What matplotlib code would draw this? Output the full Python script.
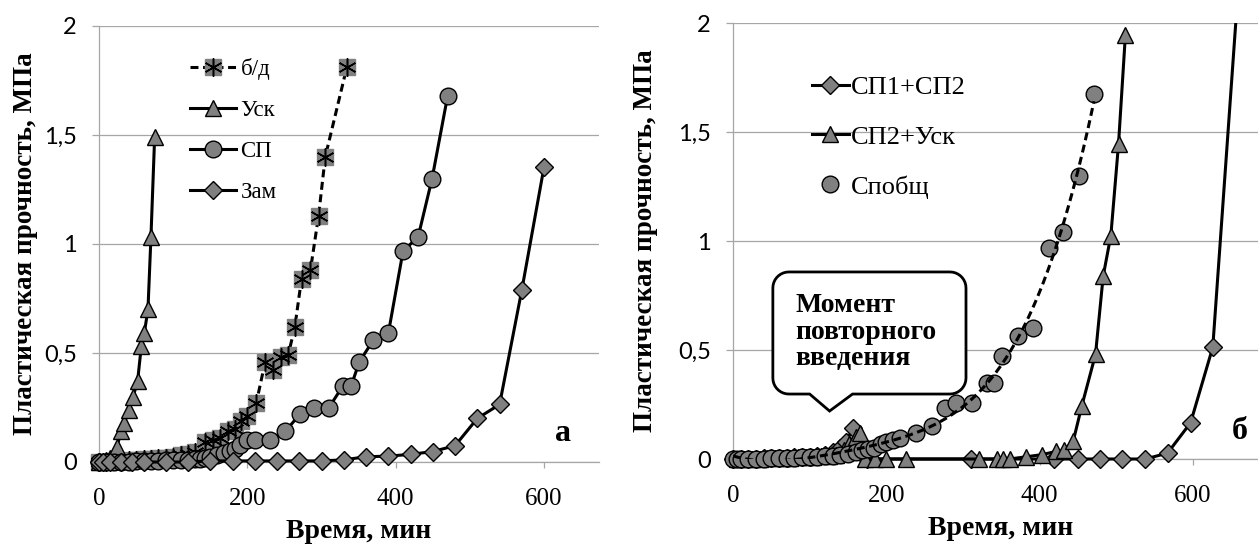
import numpy as np
import matplotlib
matplotlib.use("Agg")
import matplotlib.pyplot as plt
from matplotlib.path import Path
from matplotlib.patches import PathPatch, Rectangle
from matplotlib.transforms import IdentityTransform
from matplotlib.ticker import FuncFormatter
from matplotlib.font_manager import FontProperties
from matplotlib.legend_handler import HandlerTuple

# ---- panel a ----
bd_x = [0, 10, 20, 30, 40, 50, 60, 70, 80, 90, 100, 110, 120, 130, 143, 154, 163, 174,
        183, 192, 199, 212, 224, 235, 246, 255, 264, 273, 285, 296, 305, 334]
bd_y = [0, 0, 0.005, 0.005, 0.01, 0.01, 0.015, 0.015, 0.02, 0.02, 0.025, 0.03, 0.035, 0.045,
        0.09, 0.10, 0.11, 0.14, 0.15, 0.19, 0.21, 0.27, 0.46, 0.42, 0.48, 0.49, 0.62, 0.84,
        0.88, 1.13, 1.40, 1.81]

usk_x = [0, 5, 10, 15, 20, 24, 30, 34, 41, 46, 52, 57, 61, 66, 70, 75]
usk_y = [0, 0.005, 0.01, 0.02, 0.03, 0.07, 0.14, 0.18, 0.24, 0.30, 0.37, 0.53, 0.59, 0.70,
         1.03, 1.49]

sp_x = [0, 10, 20, 30, 40, 50, 60, 70, 80, 90, 100, 110, 120, 130, 136, 143, 150, 159, 168,
        177, 183, 190, 200, 210, 231, 251, 271, 290, 310, 329, 340, 351, 370, 390, 410, 430,
        449, 470]
sp_y = [0, 0, 0, 0, 0, 0.005, 0.005, 0.005, 0.005, 0.01, 0.01, 0.01, 0.01, 0.015, 0.015,
        0.02, 0.025, 0.03, 0.04, 0.05, 0.06, 0.08, 0.10, 0.10, 0.10, 0.14, 0.22, 0.25, 0.25,
        0.35, 0.35, 0.46, 0.56, 0.59, 0.97, 1.03, 1.30, 1.68]

zam_x = [0, 5, 15, 30, 45, 60, 90, 120, 150, 180, 210, 240, 270, 300, 330, 360, 390, 420,
         450, 480, 510, 540, 570, 600]
zam_y = [0, 0, 0, 0, 0, 0, 0, 0, 0.005, 0.005, 0.005, 0.005, 0.005, 0.005, 0.01, 0.024,
         0.027, 0.035, 0.048, 0.075, 0.20, 0.264, 0.79, 1.355]

# ---- panel б ----
d12_x = [0, 10, 20, 30, 40, 50, 60, 70, 80, 90, 100, 110, 120, 130, 140, 147, 157, 175,
         310, 419, 450, 479, 508, 538, 567, 597, 626, 660]
d12_y = [0, 0, 0, 0, 0.005, 0.005, 0.005, 0.005, 0.01, 0.01, 0.01, 0.015, 0.02, 0.03, 0.05,
         0.08, 0.14, 0, 0, 0, 0, 0, 0, 0, 0.027, 0.166, 0.513, 2.2]

t2u_x = [5, 15, 25, 35, 45, 55, 65, 75, 85, 95, 105, 115, 125, 135, 145, 152, 160, 166, 172,
         185, 200, 226, 321, 344, 352, 361, 382, 403, 422, 432, 444, 455, 473, 483, 493, 503,
         512]
t2u_y = [0, 0, 0, 0, 0.005, 0.005, 0.005, 0.005, 0.01, 0.01, 0.01, 0.015, 0.015, 0.02, 0.04,
         0.07, 0.10, 0.12, 0, 0, 0, 0, 0, 0, 0, 0, 0.01, 0.02, 0.035, 0.04, 0.083, 0.242, 0.48,
         0.839, 1.025, 1.444, 1.946]

spo_x = [0, 5, 10, 20, 30, 40, 50, 60, 70, 80, 90, 100, 110, 120, 130, 140, 150, 160, 168,
         176, 184, 193, 200, 209, 218, 239, 259, 277, 291, 312, 331, 341, 351, 372, 391, 412,
         431, 451, 471]
spo_y = [0, 0, 0, 0, 0, 0, 0.005, 0.005, 0.005, 0.005, 0.01, 0.01, 0.01, 0.015, 0.015, 0.02,
         0.025, 0.03, 0.04, 0.045, 0.05, 0.067, 0.08, 0.086, 0.096, 0.118, 0.15, 0.234, 0.258,
         0.258, 0.349, 0.349, 0.473, 0.564, 0.60, 0.97, 1.04, 1.30, 1.675]

SERIF = "Liberation Serif"
SANS = "Lato"
GRAY = "#808080"
GRID = "#a6a6a6"
LW = 2.2
DASH = (0, (2.6, 1.5))

fig = plt.figure(figsize=(12.58, 5.46), dpi=100)
ax1 = fig.add_axes([99 / 1258, 84 / 546, 500 / 1258, 436 / 546])
ax2 = fig.add_axes([733 / 1258, 87 / 546, 525 / 1258, 436 / 546])


def style_axes(ax, xmax, xlab_pos, ylab_x):
    ax.set_xlim(0, xmax)
    ax.set_ylim(0, 2)
    ax.set_yticks([0, 0.5, 1, 1.5, 2])
    ax.yaxis.set_major_formatter(FuncFormatter(lambda v, p: f"{v:g}".replace(".", ",")))
    ax.set_xticks([0, 200, 400, 600])
    ax.grid(axis="y", color=GRID, lw=0.9)
    ax.set_axisbelow(True)
    for s in ["top", "right"]:
        ax.spines[s].set_visible(False)
    for s in ["left", "bottom"]:
        ax.spines[s].set_color(GRID)
        ax.spines[s].set_linewidth(0.9)
    ax.tick_params(axis="y", length=5, color=GRID, width=0.9, pad=11)
    ax.tick_params(axis="x", length=4, color=GRID, width=0.9, pad=15)
    for t in ax.get_yticklabels():
        t.set_fontfamily(SANS)
        t.set_fontsize(17)
    for t in ax.get_xticklabels():
        t.set_fontfamily(SERIF)
        t.set_fontsize(18)
    ax.set_xlabel("Время, мин", fontfamily=SERIF, fontweight="bold", fontsize=20)
    ax.set_ylabel("Пластическая прочность, МПа", fontfamily=SERIF, fontweight="bold",
                  fontsize=19.5)
    ax.xaxis.set_label_coords(xlab_pos[0], xlab_pos[1])
    ax.yaxis.set_label_coords(ylab_x, 0.5)


mk = dict(markerfacecolor=GRAY, markeredgecolor="black", markeredgewidth=1.0, color="black",
          lw=LW, clip_on=False)

# panel a
l_bd, = ax1.plot(bd_x, bd_y, linestyle=DASH, marker="s", markersize=11,
                 markerfacecolor=GRAY, markeredgecolor=GRAY, color="black", lw=LW,
                 clip_on=False, zorder=3)
l_bd2, = ax1.plot(bd_x, bd_y, linestyle="none", marker=(6, 2, 0), markersize=13,
                  markeredgecolor="black", markeredgewidth=1.1, clip_on=False, zorder=3)
l_usk, = ax1.plot(usk_x, usk_y, marker="^", markersize=12, zorder=4, **mk)
l_sp, = ax1.plot(sp_x, sp_y, marker="o", markersize=12, zorder=4, **mk)
l_zam, = ax1.plot(zam_x, zam_y, marker="D", markersize=9, zorder=5, **mk)

style_axes(ax1, 674, (0.52, -0.13), -0.122)
ax1.legend([(l_bd, l_bd2), l_usk, l_sp, l_zam], ["б/д", "Уск", "СП", "Зам"],
           handler_map={tuple: HandlerTuple(ndivide=1, pad=0)},
           loc="upper left", bbox_to_anchor=(0.182, 0.926), frameon=False,
           prop=FontProperties(family=SERIF, size=16.5), handlelength=2.0,
           handletextpad=0.2, labelspacing=0.87, borderpad=0, borderaxespad=0)
ax1.text(625, 0.13, "а", fontfamily=SERIF, fontweight="bold", fontsize=23,
         ha="center", va="center")

# panel б
clip = Rectangle((-0.1, -0.2), 1.2, 1.2, transform=ax2.transAxes, visible=False)
ax2.add_patch(clip)
l_d12, = ax2.plot(d12_x, d12_y, marker="D", markersize=9, zorder=4, **mk)
l_d12.set_clip_on(True)
l_d12.set_clip_path(clip)
l_t2u, = ax2.plot(t2u_x, t2u_y, marker="^", markersize=12, zorder=4, **mk)
coef = np.polyfit(spo_x, spo_y, 4)
tx = np.linspace(0, max(spo_x), 200)
ax2.plot(tx, np.polyval(coef, tx), linestyle=DASH, color="black", lw=LW, zorder=5)
l_spo, = ax2.plot(spo_x, spo_y, linestyle="none", marker="o", markersize=12,
                  markerfacecolor=GRAY, markeredgecolor="black", markeredgewidth=1.0,
                  clip_on=False, zorder=4)

style_axes(ax2, 685, (0.51, -0.13), -0.143)
ax2.legend([l_d12, l_t2u, l_spo], ["СП1+СП2", "СП2+Уск", "Спобщ"],
           loc="upper left", bbox_to_anchor=(0.15, 0.88), frameon=False,
           prop=FontProperties(family=SERIF, size=19), handlelength=1.4,
           handletextpad=0.1, labelspacing=1.0, borderpad=0, borderaxespad=0)
ax2.text(661, 0.125, "б", fontfamily=SERIF, fontweight="bold", fontsize=23,
         ha="center", va="center")

# callout box "Момент повторного введения"
box_l, box_r, box_b, box_t = 52, 304, 0.298, 0.858
tip_x, tip_y, base_l, base_r = 126, 0.22, 100, 156
(L, B), (R, T) = ax2.transData.transform([(box_l, box_b), (box_r, box_t)])
(TX, TY), = ax2.transData.transform([(tip_x, tip_y)])
(BL, _), (BR, _) = ax2.transData.transform([(base_l, box_b), (base_r, box_b)])
r = 16


def arc(cx, cy, a1, a2, n=10):
    a = np.radians(np.linspace(a1, a2, n))
    return list(zip(cx + r * np.cos(a), cy + r * np.sin(a)))


verts = [(L + r, T), (R - r, T)]
verts += arc(R - r, T - r, 90, 0)
verts += arc(R - r, B + r, 0, -90)
verts += [(BR, B), (TX, TY), (BL, B)]
verts += arc(L + r, B + r, -90, -180)
verts += arc(L + r, T - r, 180, 90)
verts.append(verts[0])
callout = PathPatch(Path(verts, closed=True), facecolor="white", edgecolor="black",
                    lw=2.0, transform=IdentityTransform(), zorder=3.5, clip_on=False)
ax2.add_patch(callout)
ax2.text(81, 0.76, "Момент\nповторного\nвведения", fontfamily=SERIF, fontweight="bold",
         fontsize=20, linespacing=1.08, ha="left", va="top", zorder=6)

fig.savefig("out.png", dpi=100)
